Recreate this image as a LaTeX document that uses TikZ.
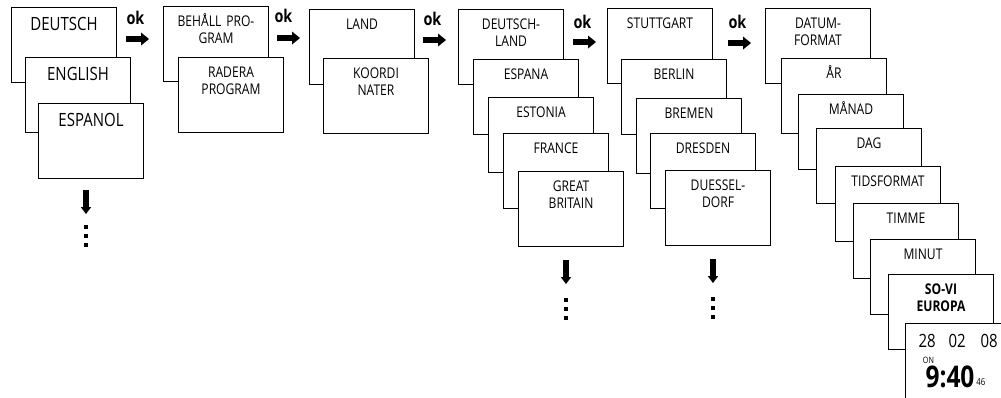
\documentclass[tikz,border=0pt]{standalone}
\usepackage{fontspec}
\setmainfont{Open Sans}[FakeStretch=0.82]
\usetikzlibrary{arrows.meta,calc}

\newcommand{\smallscreenfont}{\fontsize{8.4}{9.6}\selectfont}
\newcommand{\bigscreenfont}{\fontsize{10.4}{12}\selectfont}

\tikzset{
	screen/.style={draw, fill=white, anchor=north west, inner sep=0pt, text width=2.1cm, align=center, text height=0.40cm, text depth=1.10cm, font=\smallscreenfont},
	bigscreen/.style={screen, text height=0.46cm, text depth=1.04cm, font=\bigscreenfont},
	oklabel/.style={anchor=base west, inner sep=0pt, font=\fontsize{10}{12}\selectfont\bfseries},
	okarrow/.style={line width=0.12cm, -{Triangle[length=0.16cm, width=0.26cm, line width=0pt]}},
	downarrow/.style={line width=0.11cm, -{Triangle[length=0.14cm, width=0.21cm, line width=0pt]}},
	readout/.style={inner sep=0pt, anchor=base west}
}

\begin{document}
\begin{tikzpicture}[x=0.02cm, y=-0.02cm, line width=0.6pt]
				\clip (0,0) rectangle (1001,397);
				
				% Sprache
				\node[bigscreen] (deutsch) at (11,7) {DEUTSCH};
				\node[bigscreen] (english) at (25,57) {ENGLISH};
				\node[bigscreen] (espanol) at (38,103) {ESPANOL};
				
				% Programm
				\node[screen] (behall) at (163,6) {BEHÅLL PRO-\\GRAM};
				\node[screen] (radera) at (178,57) {RADERA\\PROGRAM};
				
				% Land
				\node[screen] (land) at (309,9) {LAND};
				\node[screen] (koordi) at (323,58) {KOORDI\\NATER};
				
				\node[screen] (deland) at (458,9) {DEUTSCH-\\LAND};
				\node[screen] (espana) at (473,59) {ESPANA};
				\node[screen] (estonia) at (488,97) {ESTONIA};
				\node[screen] (france) at (503,133) {FRANCE};
				\node[screen] (britain) at (518,171) {GREAT\\BRITAIN};
				
				% Stadt
				\node[screen] (stuttgart) at (607,8) {STUTTGART};
				\node[screen] (berlin) at (621,59) {BERLIN};
				\node[screen] (bremen) at (636,98) {BREMEN};
				\node[screen] (dresden) at (650,133) {DRESDEN};
				\node[screen] (duessel) at (665,170) {DUESSEL-\\DORF};
				
				% Datum und Zeit
				\node[screen] (datum) at (765,8) {DATUM-\\FORMAT};
				\node[screen] (ar) at (781,58) {ÅR};
				\node[screen] (manad) at (798,94) {MÅNAD};
				\node[screen] (dag) at (816,128) {DAG};
				\node[screen] (tids) at (835,166) {TIDSFORMAT};
				\node[screen] (timme) at (853,203) {TIMME};
				\node[screen] (minut) at (870,239) {MINUT};
				\node[screen, font=\smallscreenfont\bfseries] (sovi) at (888,274) {SO-VI\\EUROPA};
				\node[screen] (display) at (905,323) {};
				
				\node[readout, font=\bigscreenfont] (day) at (918,347) {28};
				\node[readout, font=\bigscreenfont] (month) at (948,347) {02};
				\node[readout, font=\bigscreenfont] (year) at (980,347) {08};
				\node[readout, anchor=base, font=\fontsize{5}{6}\selectfont] (on) at (928.5,363) {ON};
				\node[readout, font=\fontsize{17}{20}\selectfont\bfseries] (clock) at (925,387) {9:40};
				\node[readout, font=\fontsize{5.5}{6}\selectfont] (sec) at ([xshift=0.5pt, yshift=0.8pt]clock.base east) {46};
				
				% ok
				\coordinate (ok1) at ($(deutsch.north east)+(9,32)$);
				\coordinate (ok2) at ($(behall.north east)+(8,32)$);
				\coordinate (ok3) at ($(land.north east)+(8,31)$);
				\coordinate (ok4) at ($(deland.north east)+(9,33)$);
				\coordinate (ok5) at ($(stuttgart.north east)+(15,35)$);
				\draw[okarrow] (ok1) -- ++(23,0);
				\draw[okarrow] (ok2) -- ++(23,0);
				\draw[okarrow] (ok3) -- ++(23,0);
				\draw[okarrow] (ok4) -- ++(23,0);
				\draw[okarrow] (ok5) -- ++(23,0);
				\node[oklabel] (oktext1) at ($(ok1)+(0,-15)$) {ok};
				\node[oklabel] (oktext2) at ($(ok2)+(-3,-16)$) {ok};
				\node[oklabel] (oktext3) at ($(ok3)+(0,-15)$) {ok};
				\node[oklabel] (oktext4) at ($(ok4)+(0,-14)$) {ok};
				\node[oklabel] (oktext5) at ($(ok5)+(0,-15)$) {ok};
				
				% weiter
				\draw[downarrow] ($(espanol.south)+(-5,11)$) -- ++(0,24);
				\draw[downarrow] ($(britain.south)+(-5,13)$) -- ++(0,24);
				\draw[downarrow] ($(duessel.south)+(-5,13)$) -- ++(0,24);
				\foreach \d in {48,57,66}
					\fill ($(espanol.south)+(-5,\d)$) +(-2,-2) rectangle +(2,2);
				\foreach \d in {53,62,71}{
					\fill ($(britain.south)+(-5,\d)$) +(-2,-2) rectangle +(2,2);
					\fill ($(duessel.south)+(-5,\d)$) +(-2,-2) rectangle +(2,2);
				}
			\end{tikzpicture}
\end{document}
